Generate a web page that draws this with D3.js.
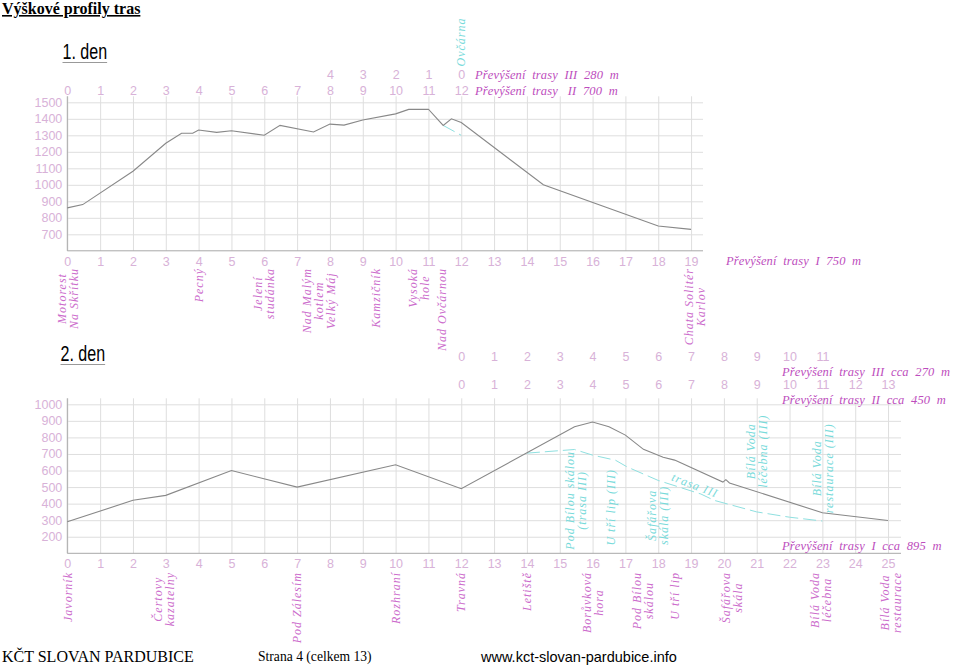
<!DOCTYPE html>
<html><head><meta charset="utf-8">
<script src="https://cdn.jsdelivr.net/npm/d3@7/dist/d3.min.js"></script>
<style>
body{margin:0;background:#fff;}
svg{display:block;}
</style></head><body>
<svg id="c" width="960" height="668"></svg>
<script>
// ================= DATA =================
// Day 1 profile (km, elevation m)
const day1Km   = [0,0.47,2,3,3.48,3.82,4,4.55,5,6,6.48,7.5,8,8.43,9,10,10.4,11,11.45,11.7,12,14.5,18,19];
const day1Elev = [860,880,1082,1252,1312,1312,1332,1318,1328,1300,1360,1320,1368,1362,1393,1430,1457,1458,1360,1400,1377,1000,750,730];
// Day 1 route III branch (dashed)
const day1AltKm   = [11.45,12];
const day1AltElev = [1360,1300];
const day1XTicks = d3.range(0,20);
const day1YTicks = [700,800,900,1000,1100,1200,1300,1400,1500];
const day1RowIIIKm = [8,9,10,11,12];
const day1RowIIILabels = ["4","3","2","1","0"];
const day1RowIIKm = d3.range(0,13);
const day1RowIILabels = d3.range(0,13).map(String);
const day1PlaceKm = [0,4,6,7.65,9.4,10.7,11.42,19.1];
const day1PlaceNames = ["Motorest|Na Skřítku","Pecný","Jelení|studánka","Nad Malým|kotlem|Velký Máj","Kamzičník","Vysoká|hole","Nad Ovčárnou","Chata Solitér|Karlov"];
const day1Notes = ["Převýšení  trasy  III  280  m","Převýšení  trasy   II  700  m","Převýšení  trasy  I  750  m"];

// Day 2 profile
const day2Km   = [0,2,3,5,7,10,12,15.45,16,16.5,17,17.55,18.15,18.5,19.97,20.06,20.17,23,25];
const day2Elev = [290,420,450,600,500,635,490,865,893,865,814,728,680,663,530,545,525,345,298];
// Day 2 route III (dashed)
const day2AltKm   = [14,15.45,16,16.7,17.05,18,19.3,19.7,21,22,23];
const day2AltElev = [705,727,693,662,622,540,458,420,350,318,295];
const day2XTicks = d3.range(0,26);
const day2YTicks = [200,300,400,500,600,700,800,900,1000];
const day2RowIIIKm = d3.range(12,24);
const day2RowIIILabels = d3.range(0,12).map(String);
const day2RowIIKm = d3.range(12,26);
const day2RowIILabels = d3.range(0,14).map(String);
const day2PlaceKm = [0,2.95,7,10,12,14,16,17.52,18.51,20.23,22.94,25.09];
const day2PlaceNames = ["Javorník","Čertovy|kazatelny","Pod Zálesím","Rozhraní","Travná","Letiště","Borůvková|hora","Pod Bílou|skálou","U tří lip","Šafářova|skála","Bílá Voda|léčebna","Bílá Voda|restaurace"];
const day2AltPlaceKm   = [15.5,16.56,17.99,21.01,23.0];
const day2AltPlaceElev = [420,378,329,717,614];
const day2AltPlaceNames = ["Pod Bílou skálou|(trasa III)","U tří lip (III)","Šafářova|skála (III)","Bílá Voda|léčebna (III)","Bílá Voda|restaurace (III)"];
const day2Notes = ["Převýšení  trasy  III  cca  270  m","Převýšení  trasy  II  cca  450  m","Převýšení  trasy  I  cca  895  m"];

// ================= STYLE =================
const C = {
  grid:"#dedede", axis:"#a8a8a8", line:"#888888", cyan:"#8fe0e0", cyanText:"#78dada",
  num:"#d8b2d8", place:"#cc6ccc", note:"#bd4dbd"
};
const numFont = "'Liberation Sans', Arial, sans-serif";
const italFont = "'Liberation Serif', 'Times New Roman', serif";

const svg = d3.select("#c");

// Header / footer
svg.append("text").attr("x",2).attr("y",14)
  .attr("font-family","'Liberation Serif','Times New Roman',serif").attr("font-weight","bold")
  .attr("font-size",16).attr("text-decoration","underline").attr("fill","#000")
  .text("Výškové profily tras");

function dayTitle(x, y, txt){
  const t = svg.append("text").attr("transform",`translate(${x},${y}) scale(0.73,1)`)
    .attr("font-family","'Liberation Sans',Arial,sans-serif").attr("font-size",22).attr("fill","#000").text(txt);
  const w = t.node().getComputedTextLength()*0.73;
  svg.append("line").attr("x1",x).attr("x2",x+w).attr("y1",y+4).attr("y2",y+4)
    .attr("stroke","#999").attr("stroke-width",1);
}
dayTitle(62.5,58.5,"1. den");
dayTitle(60.5,360.5,"2. den");

svg.append("text").attr("x",2).attr("y",662).attr("font-family","'Liberation Serif','Times New Roman',serif")
  .attr("font-size",16).attr("fill","#000").text("KČT SLOVAN PARDUBICE");
svg.append("text").attr("x",258).attr("y",661).attr("font-family","'Liberation Serif','Times New Roman',serif")
  .attr("font-size",13.6).attr("fill","#000").text("Strana 4 (celkem 13)");
svg.append("text").attr("x",481).attr("y",662).attr("font-family","'Liberation Sans',Arial,sans-serif")
  .attr("font-size",14.5).attr("fill","#000").text("www.kct-slovan-pardubice.info");

// ================= HELPERS =================
function styleNumAxis(g){
  g.select(".domain").remove();
  g.selectAll(".tick line").remove();
  g.selectAll(".tick text").attr("font-family",numFont).attr("font-size",12.5).attr("fill",C.num);
}
function vlabel(g, x, yTop, text, color, fs){
  const lines = text.split("|");
  const t = g.append("text").attr("transform",`translate(${x},${yTop}) rotate(-90)`)
    .attr("font-family",italFont).attr("font-style","italic").attr("font-size",fs)
    .attr("letter-spacing",1).attr("fill",color).attr("text-anchor","middle");
  const n = lines.length, lh = fs*1.0;
  const ts = lines.map((l,i)=> t.append("tspan").attr("x",0)
     .attr("y",(i-(n-1)/2)*lh + fs*0.35).text(l));
  let maxL = 0; ts.forEach(s=>{maxL=Math.max(maxL,s.node().getComputedTextLength());});
  return {t, maxL};
}
function topLabel(g, x, yTop, text, color, fs){
  const r = vlabel(g, x, yTop, text, color, fs);
  r.t.selectAll("tspan").attr("x",-r.maxL/2);
}

function drawDay(cfg){
  const g = svg.append("g");
  const x = d3.scaleLinear().domain([0,cfg.kmMax]).range([67.3, 67.3+cfg.kmMax*32.83]);
  const y = d3.scaleLinear().domain(cfg.yDomain).range(cfg.yRange);
  const gridRight = cfg.gridRight;
  const yBottom = cfg.yRange[0], yTopPx = cfg.yRange[1];

  // horizontal grid
  g.append("g").attr("transform",`translate(${x(0)},0)`)
    .call(d3.axisLeft(y).tickValues(cfg.yTicks).tickSize(-(gridRight-x(0))).tickFormat(""))
    .call(a=>{a.select(".domain").remove(); a.selectAll(".tick line").attr("stroke",C.grid);});
  // vertical grid
  g.append("g").attr("transform",`translate(0,${yBottom})`)
    .call(d3.axisBottom(x).tickValues(cfg.xTicks).tickSize(-(yBottom-yTopPx+6)).tickFormat(""))
    .call(a=>{a.select(".domain").remove(); a.selectAll(".tick line").attr("stroke",C.grid);});
  // axes lines
  g.append("line").attr("x1",x(0)).attr("x2",x(0)).attr("y1",yTopPx-6).attr("y2",yBottom).attr("stroke",C.axis);
  g.append("line").attr("x1",x(0)).attr("x2",gridRight).attr("y1",yBottom).attr("y2",yBottom).attr("stroke",C.axis);

  // y labels
  g.append("g").attr("transform",`translate(${x(0)},0)`)
    .call(d3.axisLeft(y).tickValues(cfg.yTicks).tickSize(0).tickPadding(5).tickFormat(d3.format("d")))
    .call(styleNumAxis);
  // bottom numbers
  g.append("g").attr("transform",`translate(0,${cfg.bottomNumY})`)
    .call(d3.axisBottom(x).tickValues(cfg.xTicks).tickSize(0).tickPadding(0).tickFormat(d3.format("d")))
    .call(styleNumAxis).call(a=>a.selectAll(".tick text").attr("y",0).attr("dy",0));
  // top rows
  cfg.rows.forEach(r=>{
    g.append("g").attr("transform",`translate(0,${r.y})`)
      .call(d3.axisBottom(x).tickValues(r.km).tickSize(0).tickFormat((d,i)=>r.labels[i]))
      .call(styleNumAxis).call(a=>a.selectAll(".tick text").attr("y",0).attr("dy",0));
  });

  // profile lines
  const line = d3.line().x(d=>x(d[0])).y(d=>y(d[1]));
  g.append("path").datum(d3.zip(cfg.altKm,cfg.altElev)).attr("d",line)
    .attr("fill","none").attr("stroke",C.cyan).attr("stroke-width",1).attr("stroke-dasharray","13,5");
  g.append("path").datum(d3.zip(cfg.km,cfg.elev)).attr("d",line)
    .attr("fill","none").attr("stroke",C.line).attr("stroke-width",1.1);

  // place labels
  cfg.placeKm.forEach((k,i)=> topLabel(g, x(k), cfg.placeTop, cfg.placeNames[i], C.place, 12));

  // notes
  cfg.notes.forEach(n=>{
    g.append("text").attr("x",n.x).attr("y",n.y).attr("font-family",italFont).attr("font-style","italic")
      .attr("font-size",12.5).attr("letter-spacing",0.15).attr("fill",C.note)
      .style("white-space","pre").text(n.text);
  });
  return {g,x,y};
}

// ================= DAY 1 =================
const d1 = drawDay({
  kmMax:19, yDomain:[600,1500], yRange:[250.8,102.3], gridRight:703,
  xTicks:day1XTicks, yTicks:day1YTicks, bottomNumY:266,
  rows:[{y:79,km:day1RowIIIKm,labels:day1RowIIILabels},{y:95,km:day1RowIIKm,labels:day1RowIILabels}],
  km:day1Km, elev:day1Elev, altKm:day1AltKm, altElev:day1AltElev,
  placeKm:day1PlaceKm, placeNames:day1PlaceNames, placeTop:268,
  notes:[{x:475,y:78.5,text:day1Notes[0]},{x:475,y:94.5,text:day1Notes[1]},{x:726,y:265,text:day1Notes[2]}]
});
vlabel(d1.g, d1.x(12), 42, "Ovčárna", C.cyanText, 12);

// ================= DAY 2 =================
const d2 = drawDay({
  kmMax:25, yDomain:[100,1000], yRange:[553.3,404.3], gridRight:901,
  xTicks:day2XTicks, yTicks:day2YTicks, bottomNumY:568,
  rows:[{y:361,km:day2RowIIIKm,labels:day2RowIIILabels},{y:389,km:day2RowIIKm,labels:day2RowIILabels}],
  km:day2Km, elev:day2Elev, altKm:day2AltKm, altElev:day2AltElev,
  placeKm:day2PlaceKm, placeNames:day2PlaceNames, placeTop:572,
  notes:[{x:782,y:376,text:day2Notes[0]},{x:782,y:404,text:day2Notes[1]},{x:782,y:550,text:day2Notes[2]}]
});
day2AltPlaceKm.forEach((k,i)=> vlabel(d2.g, d2.x(k), d2.y(day2AltPlaceElev[i]), day2AltPlaceNames[i], C.cyanText, 12));
d2.g.append("text").attr("transform",`translate(${d2.x(19.12)},${d2.y(512)}) rotate(21)`)
  .attr("font-family",italFont).attr("font-style","italic").attr("font-size",12).attr("letter-spacing",1)
  .attr("fill",C.cyanText).attr("text-anchor","middle").attr("dy","0.35em").text("trasa III");
</script>
</body></html>
